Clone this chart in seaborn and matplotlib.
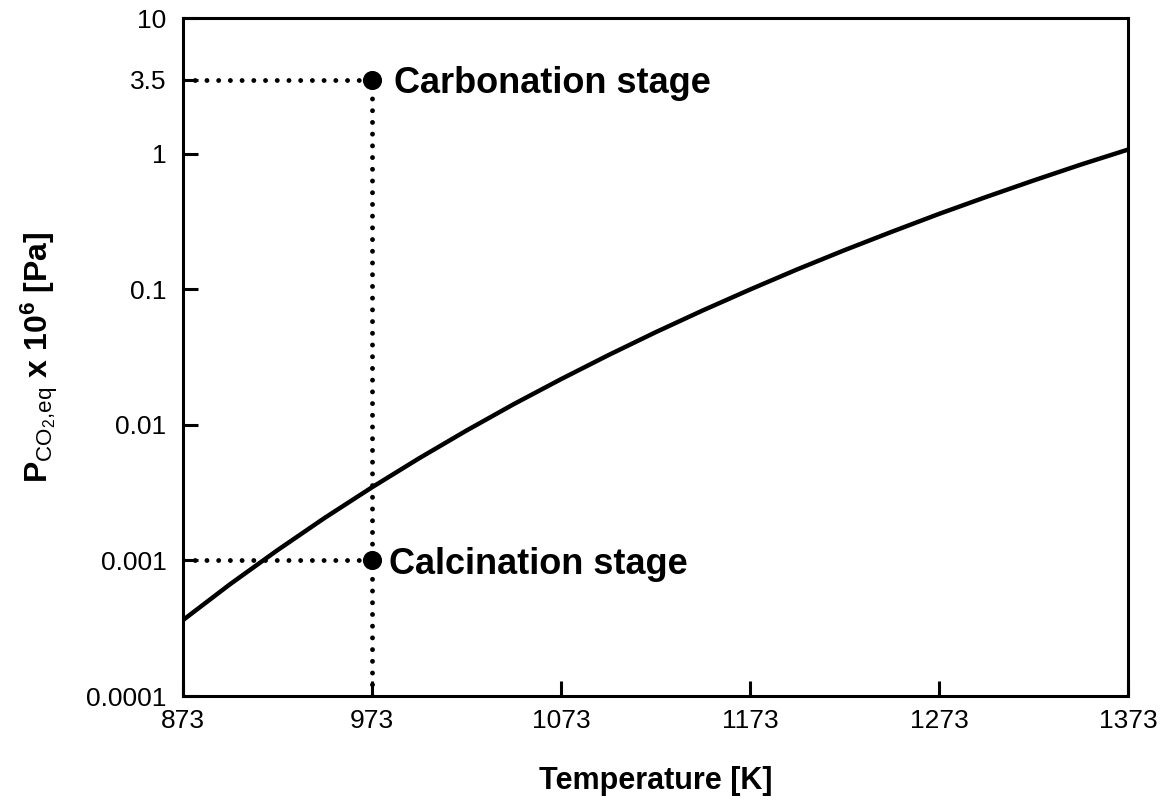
import seaborn as sns
import matplotlib.pyplot as plt
import pandas as pd

# Equilibrium CO2 pressure
temperature = [873, 898, 923, 948, 973, 998, 1023, 1048, 1073, 1098, 1123,
               1148, 1173, 1198, 1223, 1248, 1273, 1298, 1323, 1348, 1373]
p_co2_eq = [0.000363, 0.000669, 0.00119, 0.00206, 0.00346, 0.00567, 0.00907,
            0.0142, 0.0217, 0.0326, 0.0481, 0.0697, 0.0994, 0.140, 0.194,
            0.265, 0.359, 0.479, 0.633, 0.829, 1.07]

# Operating points
stage_names = ["Carbonation stage", "Calcination stage"]
stage_temp = [973, 973]
stage_p = [3.5, 0.001]

x_ticks = [873, 973, 1073, 1173, 1273, 1373]
y_ticks = [0.0001, 0.001, 0.01, 0.1, 1, 3.5, 10]
y_ticklabels = ["0.0001", "0.001", "0.01", "0.1", "1", "3.5", "10"]

curve = pd.DataFrame({"T": temperature, "P": p_co2_eq})
stages = pd.DataFrame({"name": stage_names, "T": stage_temp, "P": stage_p})

sns.set_style("ticks")
plt.rcParams["font.family"] = ["Liberation Sans", "DejaVu Sans"]
plt.rcParams["mathtext.fontset"] = "custom"
plt.rcParams["mathtext.rm"] = "Liberation Sans"
plt.rcParams["mathtext.bf"] = "Liberation Sans:bold"
plt.rcParams["mathtext.it"] = "Liberation Sans:italic"
plt.rcParams["text.color"] = "black"

fig, ax = plt.subplots(figsize=(11.62, 8), dpi=100)
fig.subplots_adjust(left=0.1575, right=0.9707, top=0.9775, bottom=0.13)

ax.set_yscale("log")
ax.set_xlim(873, 1373)
ax.set_ylim(0.0001, 10)

dotted = dict(color="black", linewidth=3.5, linestyle=(0, (0.01, 2.4)),
              dash_capstyle="round", zorder=2)
# guide lines to the operating points
for t, p in zip(stage_temp, stage_p):
    ax.plot([873, t], [p, p], **dotted)
ax.plot([stage_temp[0], stage_temp[0]], [0.0001, max(stage_p)], **dotted)

sns.lineplot(data=curve, x="T", y="P", color="black", linewidth=3.2, ax=ax, zorder=3)
sns.scatterplot(data=stages, x="T", y="P", color="black", s=190, edgecolor="black",
                linewidth=0, ax=ax, zorder=4)

offsets = [16, 12]
for name, t, p, off in zip(stage_names, stage_temp, stage_p, offsets):
    ax.annotate(name, (t, p), xytext=(off, -3), textcoords="offset points",
                ha="left", va="center", fontsize=26, fontweight="bold", color="black")

ax.set_xticks(x_ticks)
ax.set_xticklabels([str(v) for v in x_ticks])
ax.set_yticks(y_ticks)
ax.set_yticklabels(y_ticklabels)
ax.minorticks_off()
ax.tick_params(direction="in", length=10.5, width=2.2, labelsize=19, colors="black")
ax.tick_params(axis="y", pad=12)
ax.tick_params(axis="x", pad=9)

for side in ["left", "right", "top", "bottom"]:
    ax.spines[side].set_visible(True)
    ax.spines[side].set_linewidth(2.2)
    ax.spines[side].set_color("black")

ax.set_xlabel("Temperature [K]", fontsize=22, fontweight="bold", labelpad=24, color="black")
ax.set_ylabel(r"$\mathbf{P}_{\mathrm{CO_{2}{,}eq}}$ x 10$^{\mathbf{6}}$ [Pa]",
              fontsize=23, fontweight="bold", color="black")
ax.yaxis.set_label_coords(-0.13, 0.5)

fig.savefig("out.png", dpi=100, facecolor="white")
plt.close(fig)
